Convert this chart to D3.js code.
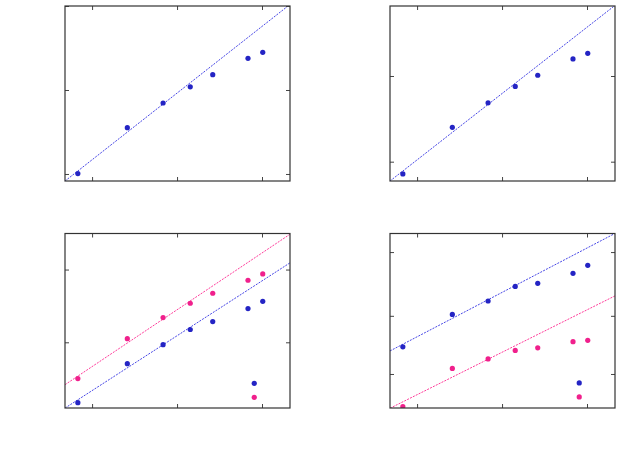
<!DOCTYPE html>
<html>
<head>
<meta charset="utf-8">
<script src="https://cdn.jsdelivr.net/npm/d3@7"></script>
<style>
  body { margin: 0; background: #fff; }
  svg { display: block; }
</style>
</head>
<body>
<script>
// x values shared by every panel (log axis)
const xVals = [0.68, 2.6, 6.85, 14.3, 26.3, 68.4, 102];
const xOutlier = 81;
const xTicks = [1, 10, 100];

// panel 1 and 2: single blue series
const p1Blue = [1.01, 3.56, 7.0, 10.9, 15.2, 23.8, 28.1];
const p2Blue = [0.72, 2.52, 4.86, 7.55, 10.2, 15.8, 18.4];

// panel 3 and 4: blue + pink, each with an outlier point
const p3Blue = [0.148, 0.509, 0.929, 1.50, 1.93, 2.91, 3.66];
const p3Pink = [0.317, 1.12, 2.19, 3.44, 4.72, 7.13, 8.7];
const p3Out = { blue: 0.273, pink: 0.175 };
const p4Blue = [1.67, 3.08, 3.97, 5.23, 5.54, 6.69, 7.78];
const p4Pink = [0.54, 1.11, 1.33, 1.56, 1.64, 1.84, 1.89];
const p4Out = { blue: 0.844, pink: 0.648 };

// power-law fit lines: log10(y) = a + b * log10(x)
const p1Fit = { a: 0.169, b: 0.794 };
const p2Fit = { a: 0.021, b: 0.774 };
const p3FitBlue = { a: -0.664, b: 0.754 };
const p3FitPink = { a: -0.334, b: 0.781 };
const p4FitBlue = { a: 0.305, b: 0.364 };
const p4FitPink = { a: -0.170, b: 0.348 };

const yDomains = [[0.825, 100], [0.595, 65.6], [0.125, 31.3], [0.526, 14.2]];
const yTicks = [[1, 10, 100], [1, 10], [1, 10], [1, 3, 10]];

const blue = '#2424c4', pink = '#f0208c';
const blueLine = '#4646e6', pinkLine = '#ff3a9a';

const panels = [
  { left: 65, top: 6, h: 175, series: [{ ys: p1Blue, fit: p1Fit, c: blue, lc: blueLine }] },
  { left: 390, top: 6, h: 175, series: [{ ys: p2Blue, fit: p2Fit, c: blue, lc: blueLine }] },
  { left: 65, top: 233.5, h: 174.5, series: [
      { ys: p3Pink, fit: p3FitPink, c: pink, lc: pinkLine, out: p3Out.pink },
      { ys: p3Blue, fit: p3FitBlue, c: blue, lc: blueLine, out: p3Out.blue }] },
  { left: 390, top: 233.5, h: 174.5, series: [
      { ys: p4Blue, fit: p4FitBlue, c: blue, lc: blueLine, out: p4Out.blue },
      { ys: p4Pink, fit: p4FitPink, c: pink, lc: pinkLine, out: p4Out.pink }] }
];

const W = 620, H = 454, pw = 225;

const svg = d3.select('body').append('svg')
  .attr('width', W)
  .attr('height', H);

panels.forEach((p, i) => {
  let x = d3.scaleLog().domain([0.48, 213.5]).range([0, pw]);
  let y = d3.scaleLog().domain(yDomains[i]).range([p.h, 0]);

  let g = svg.append('g')
    .attr('transform', `translate(${p.left},${p.top})`);

  g.append('clipPath').attr('id', 'clip' + i)
    .append('rect').attr('width', pw).attr('height', p.h);

  // fit lines
  let plot = g.append('g').attr('clip-path', `url(#clip${i})`);
  p.series.forEach(s => {
    let f = v => Math.pow(10, s.fit.a + s.fit.b * Math.log10(v));
    plot.append('path')
      .datum(x.domain())
      .attr('d', d3.line().x(d => x(d)).y(d => y(f(d))))
      .attr('fill', 'none')
      .attr('stroke', s.lc)
      .attr('stroke-width', 1)
      .attr('stroke-dasharray', '2,1.2');
  });

  // points
  p.series.forEach(s => {
    let pts = xVals.map((v, j) => [v, s.ys[j]]);
    if (s.out !== undefined) pts.push([xOutlier, s.out]);
    plot.selectAll(null)
      .data(pts)
      .enter().append('circle')
      .attr('cx', d => x(d[0]))
      .attr('cy', d => y(d[1]))
      .attr('r', 2.6)
      .attr('fill', s.c);
  });

  // axes with inward ticks, no labels
  let tk = 4;
  g.append('g').attr('transform', `translate(0,${p.h})`)
    .call(d3.axisBottom(x).tickValues(xTicks).tickSize(-tk).tickFormat(''));
  g.append('g')
    .call(d3.axisTop(x).tickValues(xTicks).tickSize(-tk).tickFormat(''));
  g.append('g')
    .call(d3.axisLeft(y).tickValues(yTicks[i]).tickSize(-tk).tickFormat(''));
  g.append('g').attr('transform', `translate(${pw},0)`)
    .call(d3.axisRight(y).tickValues(yTicks[i]).tickSize(-tk).tickFormat(''));

  g.selectAll('.domain').remove();
  g.selectAll('.tick line').attr('stroke', '#444');

  g.append('rect')
    .attr('width', pw)
    .attr('height', p.h)
    .attr('fill', 'none')
    .attr('stroke', '#333')
    .attr('stroke-width', 1.2);
});
</script>
</body>
</html>
